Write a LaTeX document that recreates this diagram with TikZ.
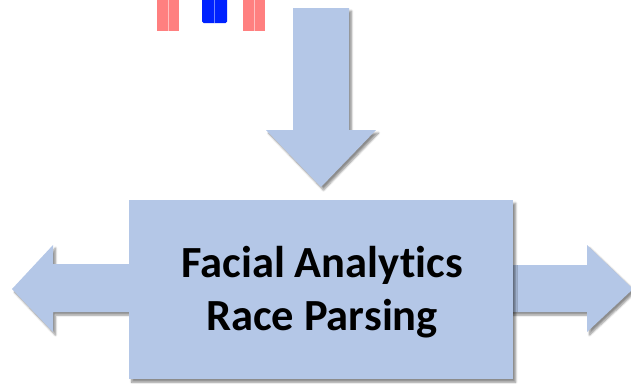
\documentclass[tikz,border=0pt]{standalone}
\usepackage{fontspec}
\setmainfont{Carlito}[Ligatures=NoCommon]
\usetikzlibrary{shadows.blur}
\definecolor{arrowblue}{HTML}{B4C7E7}
\definecolor{barpink}{HTML}{FF8080}
\definecolor{barpinkline}{HTML}{FFC0C0}
\definecolor{barblue}{HTML}{0022FF}
\definecolor{barblueline}{HTML}{6F86FF}
\tikzset{
  blockshape/.style={fill=arrowblue, draw=none, blur shadow={shadow xshift=2.5pt, shadow yshift=-3pt, shadow blur steps=6, shadow blur radius=2pt, shadow opacity=45}},
  pinkbar/.style={fill=barpink, draw=none},
  bluebar/.style={fill=barblue, draw=none, rounded corners=1.5pt},
  labeltext/.style={align=center, inner sep=0pt, font=\bfseries\fontsize{44.5}{53}\selectfont},
}
\begin{document}
\begin{tikzpicture}[x=1pt,y=-1pt]
\useasboundingbox (0,0) rectangle (631,383);
% top bars
\fill[pinkbar] (157,0) rectangle (179,31);
\draw[barpinkline, line width=1pt] (168.5,0) -- (168.5,31);
\fill[pinkbar] (243,0) rectangle (265,31);
\draw[barpinkline, line width=1pt] (254.5,0) -- (254.5,31);
\fill[bluebar] (202,-3) rectangle (227,23);
\draw[barblueline, line width=0.8pt] (214.5,0) -- (214.5,23);
% down arrow
\path[blockshape] (293,8) -- (349,8) -- (349,130) -- (376,130) -- (321,187) -- (266,130) -- (293,130) -- cycle;
% left arrow
\path[blockshape] (140,264) -- (53,264) -- (53,245) -- (12,289) -- (53,332) -- (53,312) -- (140,312) -- cycle;
% right arrow
\path[blockshape] (500,265) -- (587,265) -- (587,245) -- (633,289) -- (587,332) -- (587,312) -- (500,312) -- cycle;
% box
\node[blockshape, minimum width=384pt, minimum height=179pt, inner sep=0pt, anchor=north west] (box) at (129,200) {};
\node[labeltext, anchor=base] (label) at (322,330) {Facial Analytics\\Race Parsing};
\end{tikzpicture}
\end{document}
